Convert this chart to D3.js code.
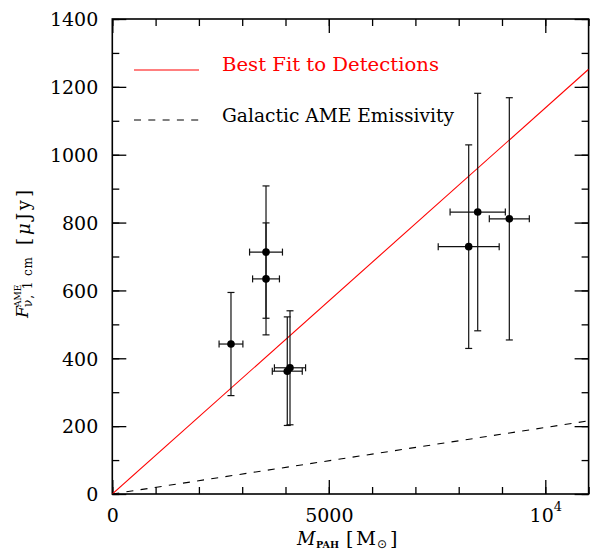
<!DOCTYPE html>
<html><head><meta charset="utf-8">
<script src="https://cdn.jsdelivr.net/npm/d3@7"></script>
<style>body{margin:0;background:#fff}svg{display:block}</style>
</head><body>
<svg id="c" width="591" height="559"></svg>
<script>
// Data
const mass     = [2741, 3550, 3550, 4041, 4104, 8231, 8439, 9169];
const massErr  = [275, 380, 310, 346, 360, 704, 638, 462];
const flux     = [442, 713, 634, 362, 372, 729, 831, 811];
const fluxErr  = [152, 195, 165, 160, 168, 300, 350, 357];
const fitSlope = 0.1138;      // best fit (μJy per M_sun)
const galSlope = 0.0196;      // Galactic AME emissivity
const xTicksLabeled = [0, 5000, 10000];
const xTicksMinor = d3.range(0, 11001, 1000);
const yTicksLabeled = d3.range(0, 1401, 200);
const yTicksMinor = d3.range(0, 1401, 100);
const legendLabels = ["Best Fit to Detections", "Galactic AME Emissivity"];

const svg = d3.select("#c");
const FONT = "'DejaVu Serif', 'Liberation Serif', serif";
const L = 112.3, R = 588.6, T = 19, B = 494;
const x = d3.scaleLinear().domain([0, 11000]).range([L, R]);
const y = d3.scaleLinear().domain([0, 1400]).range([B, T]);

function tickAxis(axisFn, scale, vals, size, tr) {
  const g = svg.append("g").attr("transform", tr)
    .call(axisFn(scale).tickValues(vals).tickSize(-size).tickFormat(""));
  g.select(".domain").remove();
  g.selectAll("line").attr("stroke", "#000").attr("stroke-width", 1.3);
  return g;
}
// minor + major ticks on all four sides (inward)
tickAxis(d3.axisBottom, x, xTicksMinor, 7, `translate(0,${B})`);
tickAxis(d3.axisBottom, x, xTicksLabeled, 14, `translate(0,${B})`);
tickAxis(d3.axisTop, x, xTicksMinor, 7, `translate(0,${T})`);
tickAxis(d3.axisTop, x, xTicksLabeled, 14, `translate(0,${T})`);
tickAxis(d3.axisLeft, y, yTicksMinor, 7, `translate(${L},0)`);
tickAxis(d3.axisLeft, y, yTicksLabeled, 14, `translate(${L},0)`);
tickAxis(d3.axisRight, y, yTicksMinor, 7, `translate(${R},0)`);
tickAxis(d3.axisRight, y, yTicksLabeled, 14, `translate(${R},0)`);

// tick labels
const xl = svg.append("g").attr("transform", `translate(0,${B})`)
  .call(d3.axisBottom(x).tickValues(xTicksLabeled).tickSize(0).tickPadding(0).tickFormat(d => d));
xl.select(".domain").remove();
xl.selectAll("text").attr("font-family", FONT).attr("font-size", 19).attr("fill", "#000")
  .attr("dy", null).attr("y", 28)
  .each(function (d) {
    if (d === 10000) {
      const t = d3.select(this);
      t.text("10");
      t.append("tspan").attr("dy", -11).attr("font-size", 13).text("4");
    }
  });
const yl = svg.append("g").attr("transform", `translate(${L},0)`)
  .call(d3.axisLeft(y).tickValues(yTicksLabeled).tickSize(0).tickPadding(0).tickFormat(d => d));
yl.select(".domain").remove();
yl.selectAll("text").attr("font-family", FONT).attr("font-size", 19).attr("fill", "#000")
  .attr("x", -14).attr("dy", "0.36em");

// frame
svg.append("rect").attr("x", L).attr("y", T).attr("width", R - L).attr("height", B - T)
  .attr("fill", "none").attr("stroke", "#000").attr("stroke-width", 1.6);

// model lines
svg.append("clipPath").attr("id", "clip").append("rect")
  .attr("x", L).attr("y", T).attr("width", R - L).attr("height", B - T);
const line = d3.line().x(d => x(d[0])).y(d => y(d[1]));
svg.append("path").attr("clip-path", "url(#clip)")
  .attr("d", line([[0, 0], [11000, 11000 * fitSlope]]))
  .attr("stroke", "#ff0000").attr("stroke-width", 1.1).attr("fill", "none");
svg.append("path").attr("clip-path", "url(#clip)")
  .attr("d", line([[0, 0], [11000, 11000 * galSlope]]))
  .attr("stroke", "#000").attr("stroke-width", 1.1).attr("fill", "none")
  .attr("stroke-dasharray", "7,7.3");

// error bars + points
const pts = mass.map((m, i) => ({ m, me: massErr[i], f: flux[i], fe: fluxErr[i] }));
const eb = svg.append("g").attr("stroke", "#111").attr("stroke-width", 1.2).attr("fill", "none");
const cap = 3.5;
pts.forEach(p => {
  const cx = x(p.m), cy = y(p.f);
  const y1 = y(p.f + p.fe), y2 = y(p.f - p.fe);
  const x1 = x(p.m - p.me), x2 = x(p.m + p.me);
  eb.append("line").attr("x1", cx).attr("x2", cx).attr("y1", y1).attr("y2", y2);
  eb.append("line").attr("x1", cx - cap).attr("x2", cx + cap).attr("y1", y1).attr("y2", y1);
  eb.append("line").attr("x1", cx - cap).attr("x2", cx + cap).attr("y1", y2).attr("y2", y2);
  eb.append("line").attr("x1", x1).attr("x2", x2).attr("y1", cy).attr("y2", cy);
  eb.append("line").attr("x1", x1).attr("x2", x1).attr("y1", cy - cap).attr("y2", cy + cap);
  eb.append("line").attr("x1", x2).attr("x2", x2).attr("y1", cy - cap).attr("y2", cy + cap);
});
svg.append("g").selectAll("circle").data(pts).join("circle")
  .attr("cx", d => x(d.m)).attr("cy", d => y(d.f)).attr("r", 3.8).attr("fill", "#000");

// legend
svg.append("line").attr("x1", 134).attr("x2", 199).attr("y1", 70).attr("y2", 70)
  .attr("stroke", "#ff0000").attr("stroke-width", 1.1);
svg.append("text").attr("x", 222).attr("y", 71).attr("font-family", FONT).attr("font-size", 18)
  .attr("fill", "#ff0000").attr("textLength", 217).attr("lengthAdjust", "spacingAndGlyphs")
  .text(legendLabels[0]);
svg.append("line").attr("x1", 134).attr("x2", 199).attr("y1", 120).attr("y2", 120)
  .attr("stroke", "#000").attr("stroke-width", 1.1).attr("stroke-dasharray", "7,7.3");
svg.append("text").attr("x", 222).attr("y", 122).attr("font-family", FONT).attr("font-size", 18)
  .attr("fill", "#000").attr("textLength", 232).attr("lengthAdjust", "spacingAndGlyphs")
  .text(legendLabels[1]);

// x-axis title
const xt = svg.append("g").attr("font-family", FONT).attr("fill", "#000");
xt.append("text").attr("x", 297).attr("y", 545).attr("font-size", 18).attr("font-style", "italic").text("M");
xt.append("text").attr("x", 316).attr("y", 548).attr("font-size", 10).attr("font-weight", "bold")
  .attr("textLength", 23).attr("lengthAdjust", "spacingAndGlyphs").text("PAH");
xt.append("text").attr("x", 346).attr("y", 545).attr("font-size", 19).text("[");
xt.append("text").attr("x", 356).attr("y", 545).attr("font-size", 19)
  .attr("textLength", 20).attr("lengthAdjust", "spacingAndGlyphs").text("M");
xt.append("text").attr("x", 377).attr("y", 548).attr("font-size", 12)
  .attr("font-family", "'DejaVu Sans', sans-serif").text("\u2299");
xt.append("text").attr("x", 390).attr("y", 545).attr("font-size", 19).text("]");

// y-axis title (rotated)
const yt = svg.append("g").attr("transform", "translate(28,318) rotate(-90)")
  .attr("font-family", FONT).attr("fill", "#000");
yt.append("text").attr("x", 0).attr("y", 0).attr("font-size", 17).attr("font-style", "italic").text("F");
yt.append("text").attr("x", 11).attr("y", -7).attr("font-size", 9).text("AME");
yt.append("text").attr("x", 11).attr("y", 4).attr("font-size", 12)
  .attr("textLength", 50).attr("lengthAdjust", "spacing").text("\u03bd, 1 cm");
const yu = yt.append("text").attr("x", 73).attr("y", 2).attr("font-size", 18)
  .attr("textLength", 55).attr("lengthAdjust", "spacing");
yu.append("tspan").text("[");
yu.append("tspan").attr("font-style", "italic").text("\u03bc");
yu.append("tspan").text("Jy]");
</script>
</body></html>
